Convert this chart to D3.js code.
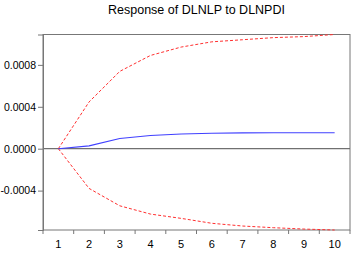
<!DOCTYPE html>
<html>
<head>
<meta charset="utf-8">
<script src="https://cdn.jsdelivr.net/npm/d3@7"></script>
<style>
  body { margin: 0; background: #fff; }
  svg { display: block; font-family: "Liberation Sans", Arial, sans-serif; }
</style>
</head>
<body>
<svg id="chart" width="354" height="253"></svg>
<script>
const title = 'Response of DLNLP to DLNPDI';
const periods = [1, 2, 3, 4, 5, 6, 7, 8, 9, 10];
const response = [0, 0.000027, 0.000097, 0.000126, 0.00014, 0.000148, 0.000151, 0.000152, 0.000152, 0.000152];
const upperBand = [0, 0.000446, 0.000738, 0.00089, 0.00097, 0.00102, 0.00104, 0.00106, 0.00107, 0.00109];
const lowerBand = [0, -0.000379, -0.000545, -0.000624, -0.000665, -0.000712, -0.000738, -0.000754, -0.000767, -0.000776];
const yTicks = [-0.0004, 0, 0.0004, 0.0008];

const margin = { top: 34.5, right: 4, bottom: 23, left: 43 };
const width = 354, height = 253;

const svg = d3.select('#chart');

const x = d3.scaleBand()
    .domain(periods)
    .range([margin.left, width - margin.right]);

const y = d3.scaleLinear()
    .domain([d3.min(lowerBand), d3.max(upperBand)])
    .range([height - margin.bottom, margin.top]);

const cx = d => x(d) + x.bandwidth() / 2;

// Title
svg.append('text')
    .attr('x', 196.5)
    .attr('y', 14)
    .attr('text-anchor', 'middle')
    .style('font-size', '12.5px')
    .style('fill', '#000')
    .text(title);

// Frame
svg.append('rect')
    .attr('x', margin.left)
    .attr('y', margin.top)
    .attr('width', width - margin.left - margin.right)
    .attr('height', height - margin.top - margin.bottom)
    .attr('fill', 'none')
    .attr('stroke', '#777')
    .attr('stroke-width', 1);

// Zero line
svg.append('line')
    .attr('x1', margin.left)
    .attr('x2', width - margin.right)
    .attr('y1', y(0))
    .attr('y2', y(0))
    .attr('stroke', '#707070')
    .attr('stroke-width', 1.3);

// Y axis
const yAxis = svg.append('g')
    .attr('transform', `translate(${margin.left},0)`)
    .call(d3.axisLeft(y).tickValues(yTicks).tickSize(5).tickPadding(2)
        .tickFormat(d3.format('.4f')));
yAxis.select('.domain').attr('stroke', '#777');
yAxis.selectAll('.tick line').attr('stroke', '#777');
yAxis.selectAll('.tick text')
    .style('font-size', '10.5px')
    .style('font-family', '"Liberation Sans", Arial, sans-serif')
    .attr('fill', '#000')
    .text(d => d < 0 ? '-' + d3.format('.4f')(-d) : d3.format('.4f')(d));

// X axis: ticks at band edges, labels at band centres
const xAxisG = svg.append('g');
const edges = periods.map(p => x(p)).concat([x(periods[periods.length - 1]) + x.bandwidth()]);
xAxisG.selectAll('line.tick')
    .data(edges)
    .join('line')
    .attr('class', 'tick')
    .attr('x1', d => d).attr('x2', d => d)
    .attr('y1', height - margin.bottom)
    .attr('y2', height - margin.bottom + 4)
    .attr('stroke', '#777');
xAxisG.selectAll('text')
    .data(periods)
    .join('text')
    .attr('x', d => cx(d))
    .attr('y', 248)
    .attr('text-anchor', 'middle')
    .style('font-size', '11px')
    .style('fill', '#000')
    .text(d => d);

// Lines
const line = d3.line()
    .x((d, i) => cx(periods[i]))
    .y(d => y(d));

svg.append('path')
    .datum(upperBand)
    .attr('d', line)
    .attr('fill', 'none')
    .attr('stroke', '#ff3030')
    .attr('stroke-width', 1)
    .attr('stroke-dasharray', '3,2');

svg.append('path')
    .datum(lowerBand)
    .attr('d', line)
    .attr('fill', 'none')
    .attr('stroke', '#ff3030')
    .attr('stroke-width', 1)
    .attr('stroke-dasharray', '3,2');

svg.append('path')
    .datum(response)
    .attr('d', line)
    .attr('fill', 'none')
    .attr('stroke', '#4040ff')
    .attr('stroke-width', 1.1);
</script>
</body>
</html>
